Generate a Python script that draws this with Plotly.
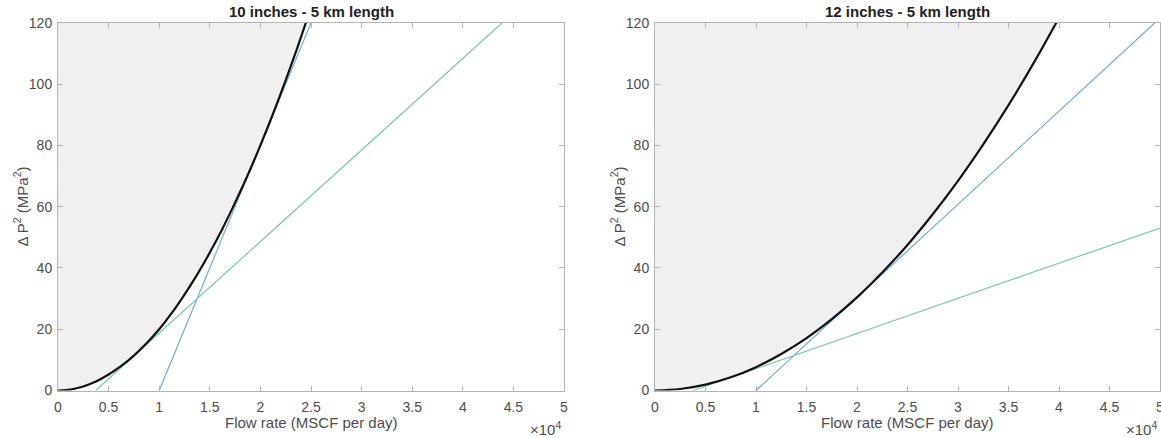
import plotly.graph_objects as go

# ---------------- data ----------------
x_ticks = [0, 5000, 10000, 15000, 20000, 25000, 30000, 35000, 40000, 45000, 50000]
x_ticktext = ["0", "0.5", "1", "1.5", "2", "2.5", "3", "3.5", "4", "4.5", "5"]
y_ticks = [0, 20, 40, 60, 80, 100, 120]

titles = ["10 inches - 5 km length", "12 inches - 5 km length"]

# left panel: pressure-drop curve (flow in MSCF/day, dP^2 in MPa^2)
q10 = [0, 1250, 2500, 3750, 5000, 6250, 7500, 8750, 10000, 11250, 12500, 13750,
       15000, 16250, 17500, 18750, 20000, 21250, 22500, 23750, 25000]
dp10 = [0, 0.3, 1.3, 2.9, 5.2, 8.0, 11.4, 15.4, 20.0, 25.3, 31.3, 37.8,
        45.0, 52.8, 61.3, 70.3, 80.0, 90.3, 101.3, 112.8, 125.0]
blue10_x = [10000, 25000]
blue10_y = [0, 120]
green10_x = [3730, 43900]
green10_y = [0, 120]

# right panel
q12 = [0, 2500, 5000, 7500, 10000, 12500, 15000, 17500, 20000, 22500, 25000,
       27500, 30000, 32500, 35000, 37500, 40000]
dp12 = [0, 0.5, 1.9, 4.3, 7.6, 11.9, 17.1, 23.3, 30.4, 38.5, 47.5,
        57.5, 68.4, 80.3, 93.1, 106.9, 121.6]
blue12_x = [10000, 49500]
blue12_y = [0, 120]
green12_x = [3780, 50000]
green12_y = [0, 53]

# ---------------- styling ----------------
W, H = 1161, 438
FONT = "Liberation Sans, Arial, Helvetica, sans-serif"
TICK_COLOR = "#4d4d4d"
AXIS_COLOR = "#b4b4b4"
BLUE = "#75a9dc"
GREEN = "#7ec8a9"
FILL = "#f0f0f0"

dom_left = [58 / W, 564 / W]
dom_right = [655 / W, 1160 / W]
dom_y = [(H - 390.5) / H, (H - 22.7) / H]

fig = go.Figure()

panels = [
    (q10, dp10, blue10_x, blue10_y, green10_x, green10_y, "x", "y"),
    (q12, dp12, blue12_x, blue12_y, green12_x, green12_y, "x2", "y2"),
]
for q, dp, bx, by, gx, gy, xa, ya in panels:
    fig.add_trace(go.Scatter(x=[0, q[-1]], y=[120, 120], mode="lines",
                             line=dict(width=0, color="rgba(0,0,0,0)"),
                             xaxis=xa, yaxis=ya, hoverinfo="skip", showlegend=False))
    fig.add_trace(go.Scatter(x=q, y=dp, mode="lines", fill="tonexty", fillcolor=FILL,
                             line=dict(width=0, color="rgba(0,0,0,0)", shape="spline"),
                             xaxis=xa, yaxis=ya, hoverinfo="skip", showlegend=False))
    fig.add_trace(go.Scatter(x=bx, y=by, mode="lines", line=dict(color=BLUE, width=1.2),
                             xaxis=xa, yaxis=ya, showlegend=False))
    fig.add_trace(go.Scatter(x=gx, y=gy, mode="lines", line=dict(color=GREEN, width=1.2),
                             xaxis=xa, yaxis=ya, showlegend=False))
    fig.add_trace(go.Scatter(x=q, y=dp, mode="lines",
                             line=dict(color="#111111", width=2.2, shape="spline"),
                             xaxis=xa, yaxis=ya, showlegend=False))

axis_common = dict(
    showgrid=False, zeroline=False, showline=True, linecolor=AXIS_COLOR, linewidth=1,
    mirror="ticks", ticks="inside", ticklen=5, tickcolor=AXIS_COLOR, automargin=False,
    ticklabeloverflow="allow",
    tickfont=dict(family=FONT, size=14, color=TICK_COLOR),
)

fig.update_layout(
    width=W, height=H,
    margin=dict(l=0, r=0, t=0, b=0, autoexpand=False),
    showlegend=False,
    paper_bgcolor="white", plot_bgcolor="white",
    xaxis=dict(domain=dom_left, range=[0, 50000], tickvals=x_ticks, ticktext=x_ticktext,
               anchor="y", ticklabelstandoff=4, **axis_common),
    yaxis=dict(domain=dom_y, range=[0, 120], tickvals=y_ticks, anchor="x",
               ticklabelstandoff=2, **axis_common),
    xaxis2=dict(domain=dom_right, range=[0, 50000], tickvals=x_ticks, ticktext=x_ticktext,
                anchor="y2", ticklabelstandoff=4, **axis_common),
    yaxis2=dict(domain=dom_y, range=[0, 120], tickvals=y_ticks, anchor="x2",
                ticklabelstandoff=2, **axis_common),
)

annotations = []
for i, (d, title) in enumerate(zip([dom_left, dom_right], titles)):
    cx = (d[0] + d[1]) / 2
    annotations.append(dict(text="<b>" + title + "</b>", x=cx, y=(H - 11) / H,
                            xref="paper", yref="paper", showarrow=False,
                            xanchor="center", yanchor="middle",
                            font=dict(family=FONT, size=15, color="#222222")))
    annotations.append(dict(text="Flow rate (MSCF per day)", x=cx, y=(H - 422) / H,
                            xref="paper", yref="paper", showarrow=False,
                            xanchor="center", yanchor="middle",
                            font=dict(family=FONT, size=15, color=TICK_COLOR)))
    annotations.append(dict(text="Δ P<sup>2</sup> (MPa<sup>2</sup>)",
                            x=(d[0] * W - 37) / W, y=(dom_y[0] + dom_y[1]) / 2,
                            xref="paper", yref="paper", showarrow=False, textangle=-90,
                            xanchor="center", yanchor="middle",
                            font=dict(family=FONT, size=15, color=TICK_COLOR)))
    annotations.append(dict(text="×10<sup>4</sup>", x=(d[1] * W - 1) / W, y=(H - 428) / H,
                            xref="paper", yref="paper", showarrow=False,
                            xanchor="right", yanchor="middle",
                            font=dict(family=FONT, size=15, color=TICK_COLOR)))
fig.update_layout(annotations=annotations)

fig.write_html(
    "out.html",
    config={"responsive": False, "displayModeBar": False},
    post_script="document.body.style.margin='0';document.body.style.overflow='hidden';",
)
